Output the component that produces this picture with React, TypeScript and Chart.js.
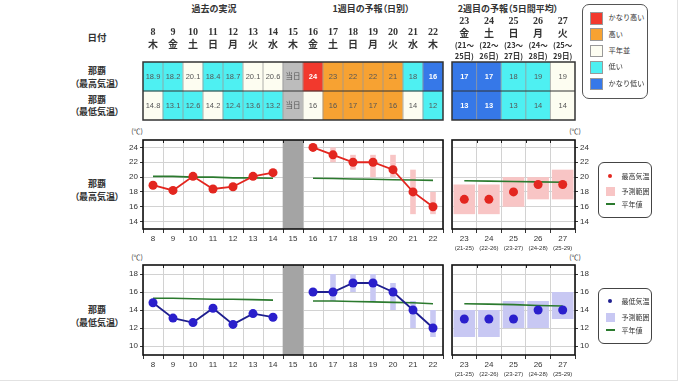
import React, { useEffect, useRef } from 'react';
import { Chart, registerables } from 'chart.js';
Chart.register(...registerables);

// ---------- data ----------
const days1 = ['8', '9', '10', '11', '12', '13', '14', '15', '16', '17', '18', '19', '20', '21', '22'];
const weekdays1 = ['木', '金', '土', '日', '月', '火', '水', '木', '金', '土', '日', '月', '火', '水', '木'];
const todayDay = '15';
const days2 = ['23', '24', '25', '26', '27'];
const weekdays2 = ['金', '土', '日', '月', '火'];
const periodStart2 = ['(21～', '(22～', '(23～', '(24～', '(25～'];
const periodEnd2 = ['25日)', '26日)', '27日)', '28日)', '29日)'];
const periodAxis2 = ['(21-25)', '(22-26)', '(23-27)', '(24-28)', '(25-29)'];

const maxTable1 = ['18.9', '18.2', '20.1', '18.4', '18.7', '20.1', '20.6', '当日', '24', '23', '22', '22', '21', '18', '16'];
const maxClass1 = ['low', 'low', 'normal', 'low', 'low', 'normal', 'normal', 'today', 'vhigh', 'high', 'high', 'high', 'high', 'low', 'vlow'];
const minTable1 = ['14.8', '13.1', '12.6', '14.2', '12.4', '13.6', '13.2', '当日', '16', '16', '17', '17', '16', '14', '12'];
const minClass1 = ['normal', 'low', 'low', 'normal', 'low', 'low', 'low', 'today', 'normal', 'high', 'high', 'high', 'high', 'normal', 'low'];
const maxTable2 = ['17', '17', '18', '19', '19'];
const maxClass2 = ['vlow', 'vlow', 'low', 'low', 'normal'];
const minTable2 = ['13', '13', '13', '14', '14'];
const minClass2 = ['vlow', 'vlow', 'low', 'low', 'normal'];

const maxObs1 = [18.9, 18.2, 20.1, 18.4, 18.7, 20.1, 20.6, null, 24, 23, 22, 22, 21, 18, 16];
const maxNormal1 = [20.1, 20.1, 20.0, 20.0, 19.9, 19.9, 19.85, null, 19.85, 19.8, 19.75, 19.7, 19.65, 19.6, 19.55];
const maxLow1 = [null, null, null, null, null, null, null, null, null, 22, 21, 20, 20, 15, 15];
const maxHigh1 = [null, null, null, null, null, null, null, null, null, 24, 23, 23, 23, 21, 18];
const maxFcst2 = [17, 17, 18, 19, 19];
const maxLow2 = [15, 15, 16, 17, 17];
const maxHigh2 = [19, 19, 20, 20, 21];
const maxNormal2 = [19.5, 19.45, 19.4, 19.35, 19.3];

const minObs1 = [14.8, 13.1, 12.6, 14.2, 12.4, 13.6, 13.2, null, 16, 16, 17, 17, 16, 14, 12];
const minNormal1 = [15.3, 15.3, 15.25, 15.2, 15.2, 15.15, 15.1, null, 15.0, 15.0, 14.95, 14.9, 14.85, 14.8, 14.7];
const minLow1 = [null, null, null, null, null, null, null, null, null, 15, 16, 15, 14, 12, 11];
const minHigh1 = [null, null, null, null, null, null, null, null, null, 18, 18, 18, 17, 15, 14];
const minFcst2 = [13, 13, 13, 14, 14];
const minLow2 = [11, 11, 12, 12, 13];
const minHigh2 = [14, 14, 15, 15, 16];
const minNormal2 = [14.7, 14.65, 14.6, 14.5, 14.45];

const maxRange = [13, 25];
const maxTicks = [14, 16, 18, 20, 22, 24];
const minRange = [9, 19];
const minTicks = [10, 12, 14, 16, 18];

const classColors: Record<string, string> = {
  vhigh: '#f2392d',
  high: '#f7a232',
  normal: '#fdfdf1',
  low: '#4ef0f2',
  vlow: '#3678e8',
  today: '#bcbcbc',
};
const legendClasses = ['vhigh', 'high', 'normal', 'low', 'vlow'];
const legendClassLabels = ['かなり高い', '高い', '平年並', '低い', 'かなり低い'];

const SANS = "'Liberation Sans', Arial, 'Noto Sans CJK JP', sans-serif";
const JP = "'Noto Sans CJK JP', 'Noto Sans', sans-serif";
const SERIF = "'Liberation Serif', 'Noto Sans CJK JP', serif";

// ---------- plugins ----------
const framePlugin = {
  id: 'frame',
  afterDraw(chart: any) {
    const { ctx, chartArea: a } = chart;
    const x = chart.scales.x;
    const n = chart.data.labels.length;
    ctx.save();
    ctx.strokeStyle = '#222';
    ctx.lineWidth = 1;
    for (let i = 1; i < n; i++) {
      const bx = Math.round((x.getPixelForValue(i - 1) + x.getPixelForValue(i)) / 2) + 0.5;
      ctx.beginPath();
      ctx.moveTo(bx, a.top);
      ctx.lineTo(bx, a.top + 3);
      ctx.stroke();
    }
    ctx.lineWidth = 1.6;
    ctx.strokeStyle = '#111';
    ctx.strokeRect(a.left, a.top, a.right - a.left, a.bottom - a.top);
    const sub = chart.options.plugins.subLabels;
    if (sub && sub.labels) {
      ctx.fillStyle = '#333';
      ctx.font = `6px ${SANS}`;
      ctx.textAlign = 'center';
      ctx.textBaseline = 'middle';
      sub.labels.forEach((s: string, i: number) => {
        ctx.fillText(s, x.getPixelForValue(i), a.bottom + 19);
      });
    }
    ctx.restore();
  },
};

const tablePlugin = {
  id: 'tableText',
  afterDatasetsDraw(chart: any) {
    const { ctx, chartArea: a } = chart;
    const opts = chart.options.plugins.tableText;
    const x = chart.scales.x;
    const n = chart.data.labels.length;
    ctx.save();
    // cell separators
    ctx.strokeStyle = '#9a9a9a';
    ctx.lineWidth = 0.8;
    for (let i = 1; i < n; i++) {
      const bx = (x.getPixelForValue(i - 1) + x.getPixelForValue(i)) / 2;
      ctx.beginPath();
      ctx.moveTo(bx, a.top);
      ctx.lineTo(bx, a.bottom);
      ctx.stroke();
    }
    // text in cells
    ctx.textAlign = 'center';
    ctx.textBaseline = 'middle';
    chart.data.datasets.forEach((ds: any, di: number) => {
      const meta = chart.getDatasetMeta(di);
      meta.data.forEach((el: any, i: number) => {
        const cls = opts.classes[di][i];
        const strong = cls === 'vhigh' || cls === 'vlow';
        ctx.fillStyle = strong ? '#ffffff' : '#555';
        ctx.font = `${strong ? 'bold ' : ''}7.5px ${SANS}`;
        ctx.fillText(opts.rows[di][i], el.x, (el.y + el.base) / 2);
      });
    });
    // row separator + frame
    const y = chart.scales.y;
    ctx.strokeStyle = '#333';
    ctx.lineWidth = 1.2;
    ctx.beginPath();
    const mid = y.getPixelForValue(1);
    ctx.moveTo(a.left, mid);
    ctx.lineTo(a.right, mid);
    ctx.stroke();
    ctx.lineWidth = 1.5;
    ctx.strokeRect(a.left, a.top, a.right - a.left, a.bottom - a.top);
    // headers
    ctx.fillStyle = '#333';
    opts.header.forEach((h: any) => {
      ctx.font = h.font;
      h.texts.forEach((t: string, i: number) => {
        ctx.fillText(t, x.getPixelForValue(i), h.y);
      });
    });
    ctx.restore();
  },
};

// ---------- configs ----------
function plotConfig(p: any) {
  const datasets: any[] = [
    {
      type: 'line',
      data: p.obs,
      borderColor: p.lineColor,
      borderWidth: 1.8,
      showLine: p.showLine,
      pointRadius: 4.5,
      pointBackgroundColor: p.pointColor,
      pointBorderColor: p.pointColor,
      pointBorderWidth: 0,
      spanGaps: false,
      order: 1,
    },
    {
      type: 'line',
      data: p.normal,
      borderColor: '#2b7a2e',
      borderWidth: 1.6,
      pointRadius: 0,
      spanGaps: false,
      order: 2,
    },
    {
      type: 'bar',
      data: p.low.map((l: number | null, i: number) => (l == null ? null : [l, p.high[i]])),
      backgroundColor: p.rangeColor,
      barPercentage: p.rangePct,
      categoryPercentage: 1,
      grouped: false,
      order: 3,
    },
  ];
  if (p.band) {
    datasets.push({
      type: 'bar',
      data: p.band,
      backgroundColor: '#a4a4a4',
      barPercentage: 1,
      categoryPercentage: 1,
      grouped: false,
      order: 4,
    });
  }
  return {
    type: 'bar',
    data: { labels: p.labels, datasets },
    options: {
      responsive: false,
      maintainAspectRatio: false,
      animation: false,
      events: [],
      layout: { padding: p.pad },
      plugins: {
        legend: { display: false },
        tooltip: { enabled: false },
        subLabels: { labels: p.sub || null },
      },
      scales: {
        x: {
          type: 'category',
          offset: true,
          grid: { offset: true, color: '#d2d2d2', lineWidth: 1, tickLength: 4, tickColor: '#333' },
          border: { display: false },
          ticks: { font: { size: 8, family: SANS }, color: '#333', padding: 1, maxRotation: 0, autoSkip: false },
          afterFit: (s: any) => {
            s.height = p.xH;
          },
        },
        y: {
          position: p.yPos,
          min: p.yMin,
          max: p.yMax,
          afterBuildTicks: (s: any) => {
            s.ticks = p.yTicks.map((v: number) => ({ value: v }));
          },
          grid: { color: '#d2d2d2', lineWidth: 1, tickLength: 3, tickColor: '#333' },
          border: { display: false },
          ticks: { font: { size: 8, family: SANS }, color: '#333', padding: 2 },
          afterFit: (s: any) => {
            s.width = p.yW;
          },
        },
      },
    },
    plugins: [framePlugin],
  };
}

function tableConfig(p: any) {
  return {
    type: 'bar',
    data: {
      labels: p.labels,
      datasets: p.classes.map((cls: string[], ri: number) => ({
        data: p.labels.map(() => [ri, ri + 1]),
        backgroundColor: cls.map((c) => classColors[c]),
        barPercentage: 1,
        categoryPercentage: 1,
        grouped: false,
        borderWidth: 0,
      })),
    },
    options: {
      responsive: false,
      maintainAspectRatio: false,
      animation: false,
      events: [],
      layout: { padding: p.pad },
      plugins: {
        legend: { display: false },
        tooltip: { enabled: false },
        tableText: { rows: p.rows, classes: p.classes, header: p.header },
      },
      scales: {
        x: { display: false, offset: true },
        y: { display: false, min: 0, max: 2, reverse: true },
      },
    },
    plugins: [tablePlugin],
  };
}

const dateFont = `bold 10px ${SERIF}`;
const subFont = `bold 7.5px ${JP}`;

const charts = [
  {
    key: 'tbl1', left: 140, top: 0, width: 306, height: 122,
    make: () =>
      tableConfig({
        labels: days1,
        rows: [maxTable1, minTable1],
        classes: [maxClass1, minClass1],
        pad: { left: 3, right: 3, top: 62, bottom: 2 },
        header: [
          { texts: days1, y: 32, font: dateFont },
          { texts: weekdays1, y: 45.5, font: dateFont },
        ],
      }),
  },
  {
    key: 'tbl2', left: 449, top: 0, width: 130, height: 122,
    make: () =>
      tableConfig({
        labels: days2,
        rows: [maxTable2, minTable2],
        classes: [maxClass2, minClass2],
        pad: { left: 3, right: 4, top: 62, bottom: 2 },
        header: [
          { texts: days2, y: 21, font: dateFont },
          { texts: weekdays2, y: 34.5, font: dateFont },
          { texts: periodStart2, y: 45.5, font: subFont },
          { texts: periodEnd2, y: 56.5, font: subFont },
        ],
      }),
  },
  {
    key: 'max1', left: 100, top: 120, width: 350, height: 135,
    make: () =>
      plotConfig({
        labels: days1, obs: maxObs1, normal: maxNormal1, low: maxLow1, high: maxHigh1,
        band: days1.map((d) => (d === todayDay ? maxRange : null)),
        rangePct: 0.28, lineColor: '#e3261f', pointColor: '#e3261f', rangeColor: '#f8c5c5', showLine: true,
        yMin: maxRange[0], yMax: maxRange[1], yTicks: maxTicks, yPos: 'left', yW: 43, xH: 26,
        pad: { left: 0, right: 7, top: 20, bottom: 0 },
      }),
  },
  {
    key: 'max2', left: 445, top: 120, width: 165, height: 135,
    make: () =>
      plotConfig({
        labels: days2, obs: maxFcst2, normal: maxNormal2, low: maxLow2, high: maxHigh2,
        rangePct: 0.88, lineColor: '#e3261f', pointColor: '#e3261f', rangeColor: '#f8c5c5', showLine: false,
        yMin: maxRange[0], yMax: maxRange[1], yTicks: maxTicks, yPos: 'right', yW: 35, xH: 26,
        pad: { left: 7, right: 0, top: 20, bottom: 0 }, sub: periodAxis2,
      }),
  },
  {
    key: 'min1', left: 100, top: 245, width: 350, height: 135,
    make: () =>
      plotConfig({
        labels: days1, obs: minObs1, normal: minNormal1, low: minLow1, high: minHigh1,
        band: days1.map((d) => (d === todayDay ? minRange : null)),
        rangePct: 0.28, lineColor: '#1f1f8f', pointColor: '#2a1fcc', rangeColor: '#c8c8f3', showLine: true,
        yMin: minRange[0], yMax: minRange[1], yTicks: minTicks, yPos: 'left', yW: 43, xH: 25,
        pad: { left: 0, right: 7, top: 20, bottom: 0 },
      }),
  },
  {
    key: 'min2', left: 445, top: 245, width: 165, height: 135,
    make: () =>
      plotConfig({
        labels: days2, obs: minFcst2, normal: minNormal2, low: minLow2, high: minHigh2,
        rangePct: 0.88, lineColor: '#1f1f8f', pointColor: '#2a1fcc', rangeColor: '#c8c8f3', showLine: false,
        yMin: minRange[0], yMax: minRange[1], yTicks: minTicks, yPos: 'right', yW: 35, xH: 25,
        pad: { left: 7, right: 0, top: 20, bottom: 0 }, sub: periodAxis2,
      }),
  },
];

function ChartCanvas(props: { left: number; top: number; width: number; height: number; make: () => any }) {
  const ref = useRef<HTMLCanvasElement>(null);
  useEffect(() => {
    const c = new Chart(ref.current as HTMLCanvasElement, props.make());
    return () => c.destroy();
  }, []);
  return (
    <canvas
      ref={ref}
      width={props.width}
      height={props.height}
      style={{ position: 'absolute', left: props.left, top: props.top, width: props.width, height: props.height }}
    />
  );
}

function Txt(props: { x: number; y: number; size: number; bold?: boolean; children: React.ReactNode; align?: string }) {
  const tx = props.align === 'left' ? '0' : '-50%';
  return (
    <div
      style={{
        position: 'absolute',
        left: props.x,
        top: props.y,
        transform: `translate(${tx}, -50%)`,
        fontSize: props.size,
        fontWeight: props.bold ? 700 : 400,
        fontFamily: JP,
        color: '#333',
        whiteSpace: 'nowrap',
        lineHeight: 1,
        fontFeatureSettings: '"palt"',
      }}
    >
      {props.children}
    </div>
  );
}

function PlotLegend(props: { top: number; dot: string; range: string; labels: string[] }) {
  const box: React.CSSProperties = {
    position: 'absolute', left: 597.5, top: props.top, width: 54, height: 56,
    border: '1px solid #444', borderRadius: 6, boxSizing: 'border-box', background: '#fff',
  };
  return (
    <div style={box}>
      <div style={{ position: 'absolute', left: 9.5, top: 10.5, width: 4, height: 4, borderRadius: 2, background: props.dot }} />
      <div style={{ position: 'absolute', left: 7.5, top: 24, width: 8.5, height: 9, background: props.range }} />
      <div style={{ position: 'absolute', left: 7.5, top: 40, width: 9, height: 2, background: '#2b7a2e' }} />
      {props.labels.map((l, i) => (
        <div key={l} style={{ position: 'absolute', left: 23, top: [12.5, 28, 41][i], transform: 'translateY(-50%)', fontSize: 7, fontFamily: JP, color: '#333', lineHeight: 1, whiteSpace: 'nowrap' }}>
          {l}
        </div>
      ))}
    </div>
  );
}

export default function App() {
  return (
    <div style={{ position: 'absolute', left: 0, top: 0, width: 680, height: 382, background: '#fff', overflow: 'hidden' }}>
      <div style={{ position: 'absolute', left: 677, top: 0, width: 1, height: 381, background: '#e2e2e2' }} />
      <div style={{ position: 'absolute', left: 0, top: 380, width: 678, height: 1, background: '#e2e2e2' }} />

      <Txt x={214} y={8} size={9} bold>過去の実況</Txt>
      <Txt x={371} y={8} size={9} bold>1週目の予報（日別）</Txt>
      <Txt x={508} y={8} size={9} bold>2週目の予報（5日間平均）</Txt>

      <Txt x={97} y={38} size={9.5} bold>日付</Txt>
      <Txt x={97} y={70} size={9} bold>那覇</Txt>
      <Txt x={97} y={83} size={9} bold>（最高気温）</Txt>
      <Txt x={97} y={99} size={9} bold>那覇</Txt>
      <Txt x={97} y={111} size={9} bold>（最低気温）</Txt>

      <Txt x={97} y={183} size={9} bold>那覇</Txt>
      <Txt x={97} y={196} size={9} bold>（最高気温）</Txt>
      <Txt x={97} y={309} size={9} bold>那覇</Txt>
      <Txt x={97} y={322} size={9} bold>（最低気温）</Txt>

      <Txt x={137} y={131} size={7}>(℃)</Txt>
      <Txt x={575} y={131} size={7}>(℃)</Txt>
      <Txt x={137} y={257} size={7}>(℃)</Txt>
      <Txt x={575} y={257} size={7}>(℃)</Txt>

      {charts.map((c) => (
        <ChartCanvas key={c.key} left={c.left} top={c.top} width={c.width} height={c.height} make={c.make} />
      ))}

      <div style={{ position: 'absolute', left: 582, top: 4, width: 66, height: 95, border: '1px solid #555', borderRadius: 7, boxSizing: 'border-box' }}>
        {legendClasses.map((c, i) => (
          <React.Fragment key={c}>
            <div style={{ position: 'absolute', left: 6.5, top: 7 + i * 16.4, width: 13, height: 12.5, background: classColors[c], border: '0.5px solid #999', boxSizing: 'border-box' }} />
            <div style={{ position: 'absolute', left: 25.5, top: 13.2 + i * 16.4, transform: 'translateY(-50%)', fontSize: 7.2, fontFamily: JP, color: '#333', lineHeight: 1, whiteSpace: 'nowrap' }}>
              {legendClassLabels[i]}
            </div>
          </React.Fragment>
        ))}
      </div>

      <PlotLegend top={162} dot="#e3261f" range="#f8c5c5" labels={['最高気温', '予測範囲', '平年値']} />
      <PlotLegend top={287.5} dot="#1f1f8f" range="#c8c8f3" labels={['最低気温', '予測範囲', '平年値']} />
    </div>
  );
}
